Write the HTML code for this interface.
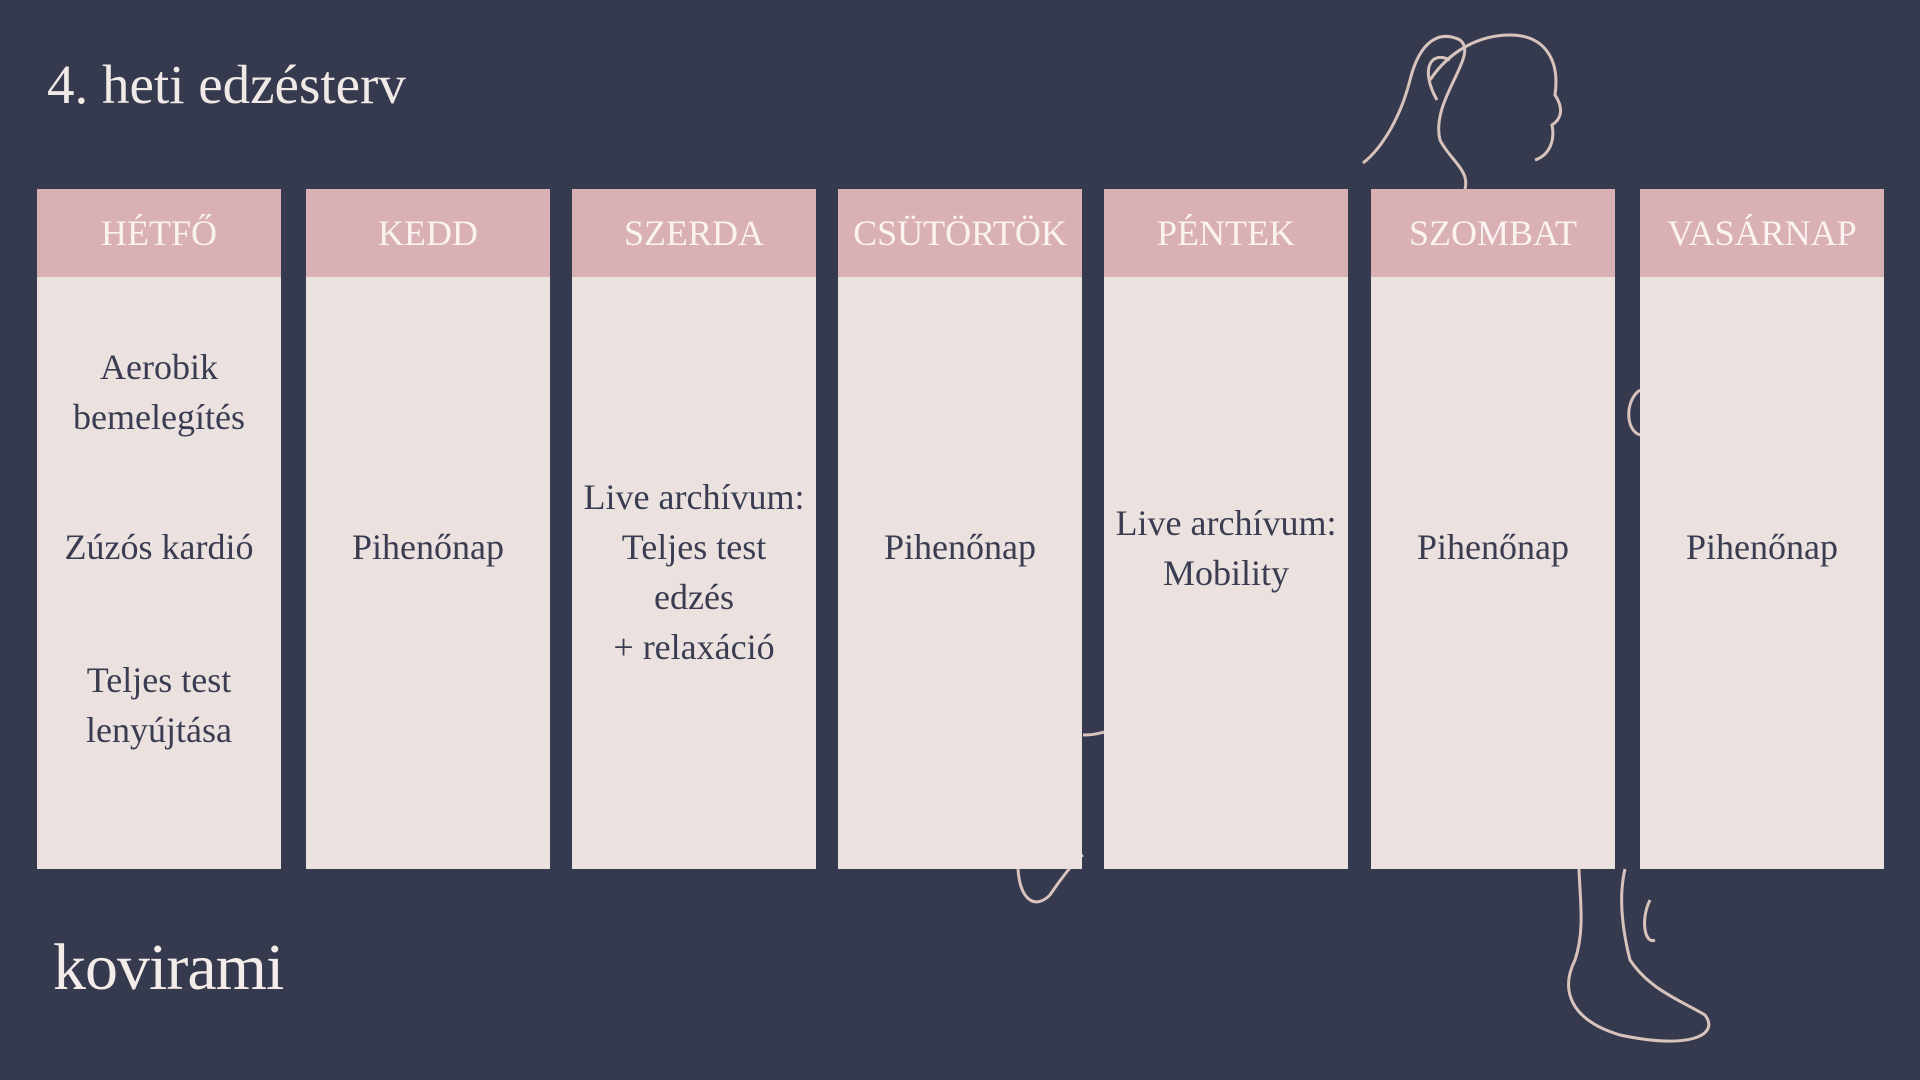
<!DOCTYPE html>
<html><head><meta charset="utf-8"><style>
body{margin:0;width:1920px;height:1080px;background:#363a4f;position:relative;overflow:hidden;font-family:"Liberation Serif",serif}
.t{position:absolute;left:47px;top:53px;font-size:55px;color:#f1e9e6}
.col{position:absolute;top:189px;width:244px;height:680px;background:#ebe1df}
.h{height:88px;background:#d9b0b3;color:#fbf3f1;font-size:36px;text-align:center;line-height:88px;white-space:nowrap}
.b{position:absolute;left:0;width:100%;text-align:center;font-size:36px;line-height:50px;color:#3a3d52}
.logo{position:absolute;left:53px;top:930px;font-size:66px;color:#f4ece8;letter-spacing:-1px}
svg{position:absolute;left:0;top:0}
</style></head><body>
<svg width="1920" height="1080" fill="none" stroke="#d8c4bd" stroke-width="3">
<path d="M1363 163 C1380 150 1400 120 1410 80 C1420 40 1440 30 1460 40 C1480 55 1430 100 1440 140 C1450 160 1470 170 1465 189"/>
<path d="M1430 80 C1450 50 1480 35 1510 35 C1545 35 1560 60 1555 95 C1565 110 1560 120 1552 125 C1555 140 1550 155 1535 160"/>
<path d="M1437 100 C1420 70 1430 50 1450 60"/>
<path d="M1640 390 C1625 400 1625 430 1640 435"/>
<path d="M1579 869 C1580 900 1585 930 1575 960 C1560 990 1570 1020 1620 1035 C1690 1050 1720 1035 1705 1015 C1680 1000 1650 990 1630 960 C1620 920 1620 890 1625 869"/>
<path d="M1650 900 C1640 920 1645 945 1655 940"/>
<path d="M1018 869 C1020 900 1035 910 1050 895 C1060 880 1075 860 1083 855"/>
<path d="M1083 735 C1095 735 1100 733 1104 732"/>
</svg>
<div class="t">4. heti edzésterv</div>
<div class="col" style="left:37px"><div class="h">HÉTFŐ</div>
<div class="b" style="top:153px">Aerobik<br>bemelegítés</div>
<div class="b" style="top:333px">Zúzós kardió</div>
<div class="b" style="top:466px">Teljes test<br>lenyújtása</div></div>
<div class="col" style="left:306px"><div class="h">KEDD</div><div class="b" style="top:333px">Pihenőnap</div></div>
<div class="col" style="left:572px"><div class="h">SZERDA</div><div class="b" style="top:283px">Live archívum:<br>Teljes test<br>edzés<br>+ relaxáció</div></div>
<div class="col" style="left:838px"><div class="h">CSÜTÖRTÖK</div><div class="b" style="top:333px">Pihenőnap</div></div>
<div class="col" style="left:1104px"><div class="h">PÉNTEK</div><div class="b" style="top:309px">Live archívum:<br>Mobility</div></div>
<div class="col" style="left:1371px"><div class="h">SZOMBAT</div><div class="b" style="top:333px">Pihenőnap</div></div>
<div class="col" style="left:1640px"><div class="h">VASÁRNAP</div><div class="b" style="top:333px">Pihenőnap</div></div>
<div class="logo">kovirami</div>
</body></html>
